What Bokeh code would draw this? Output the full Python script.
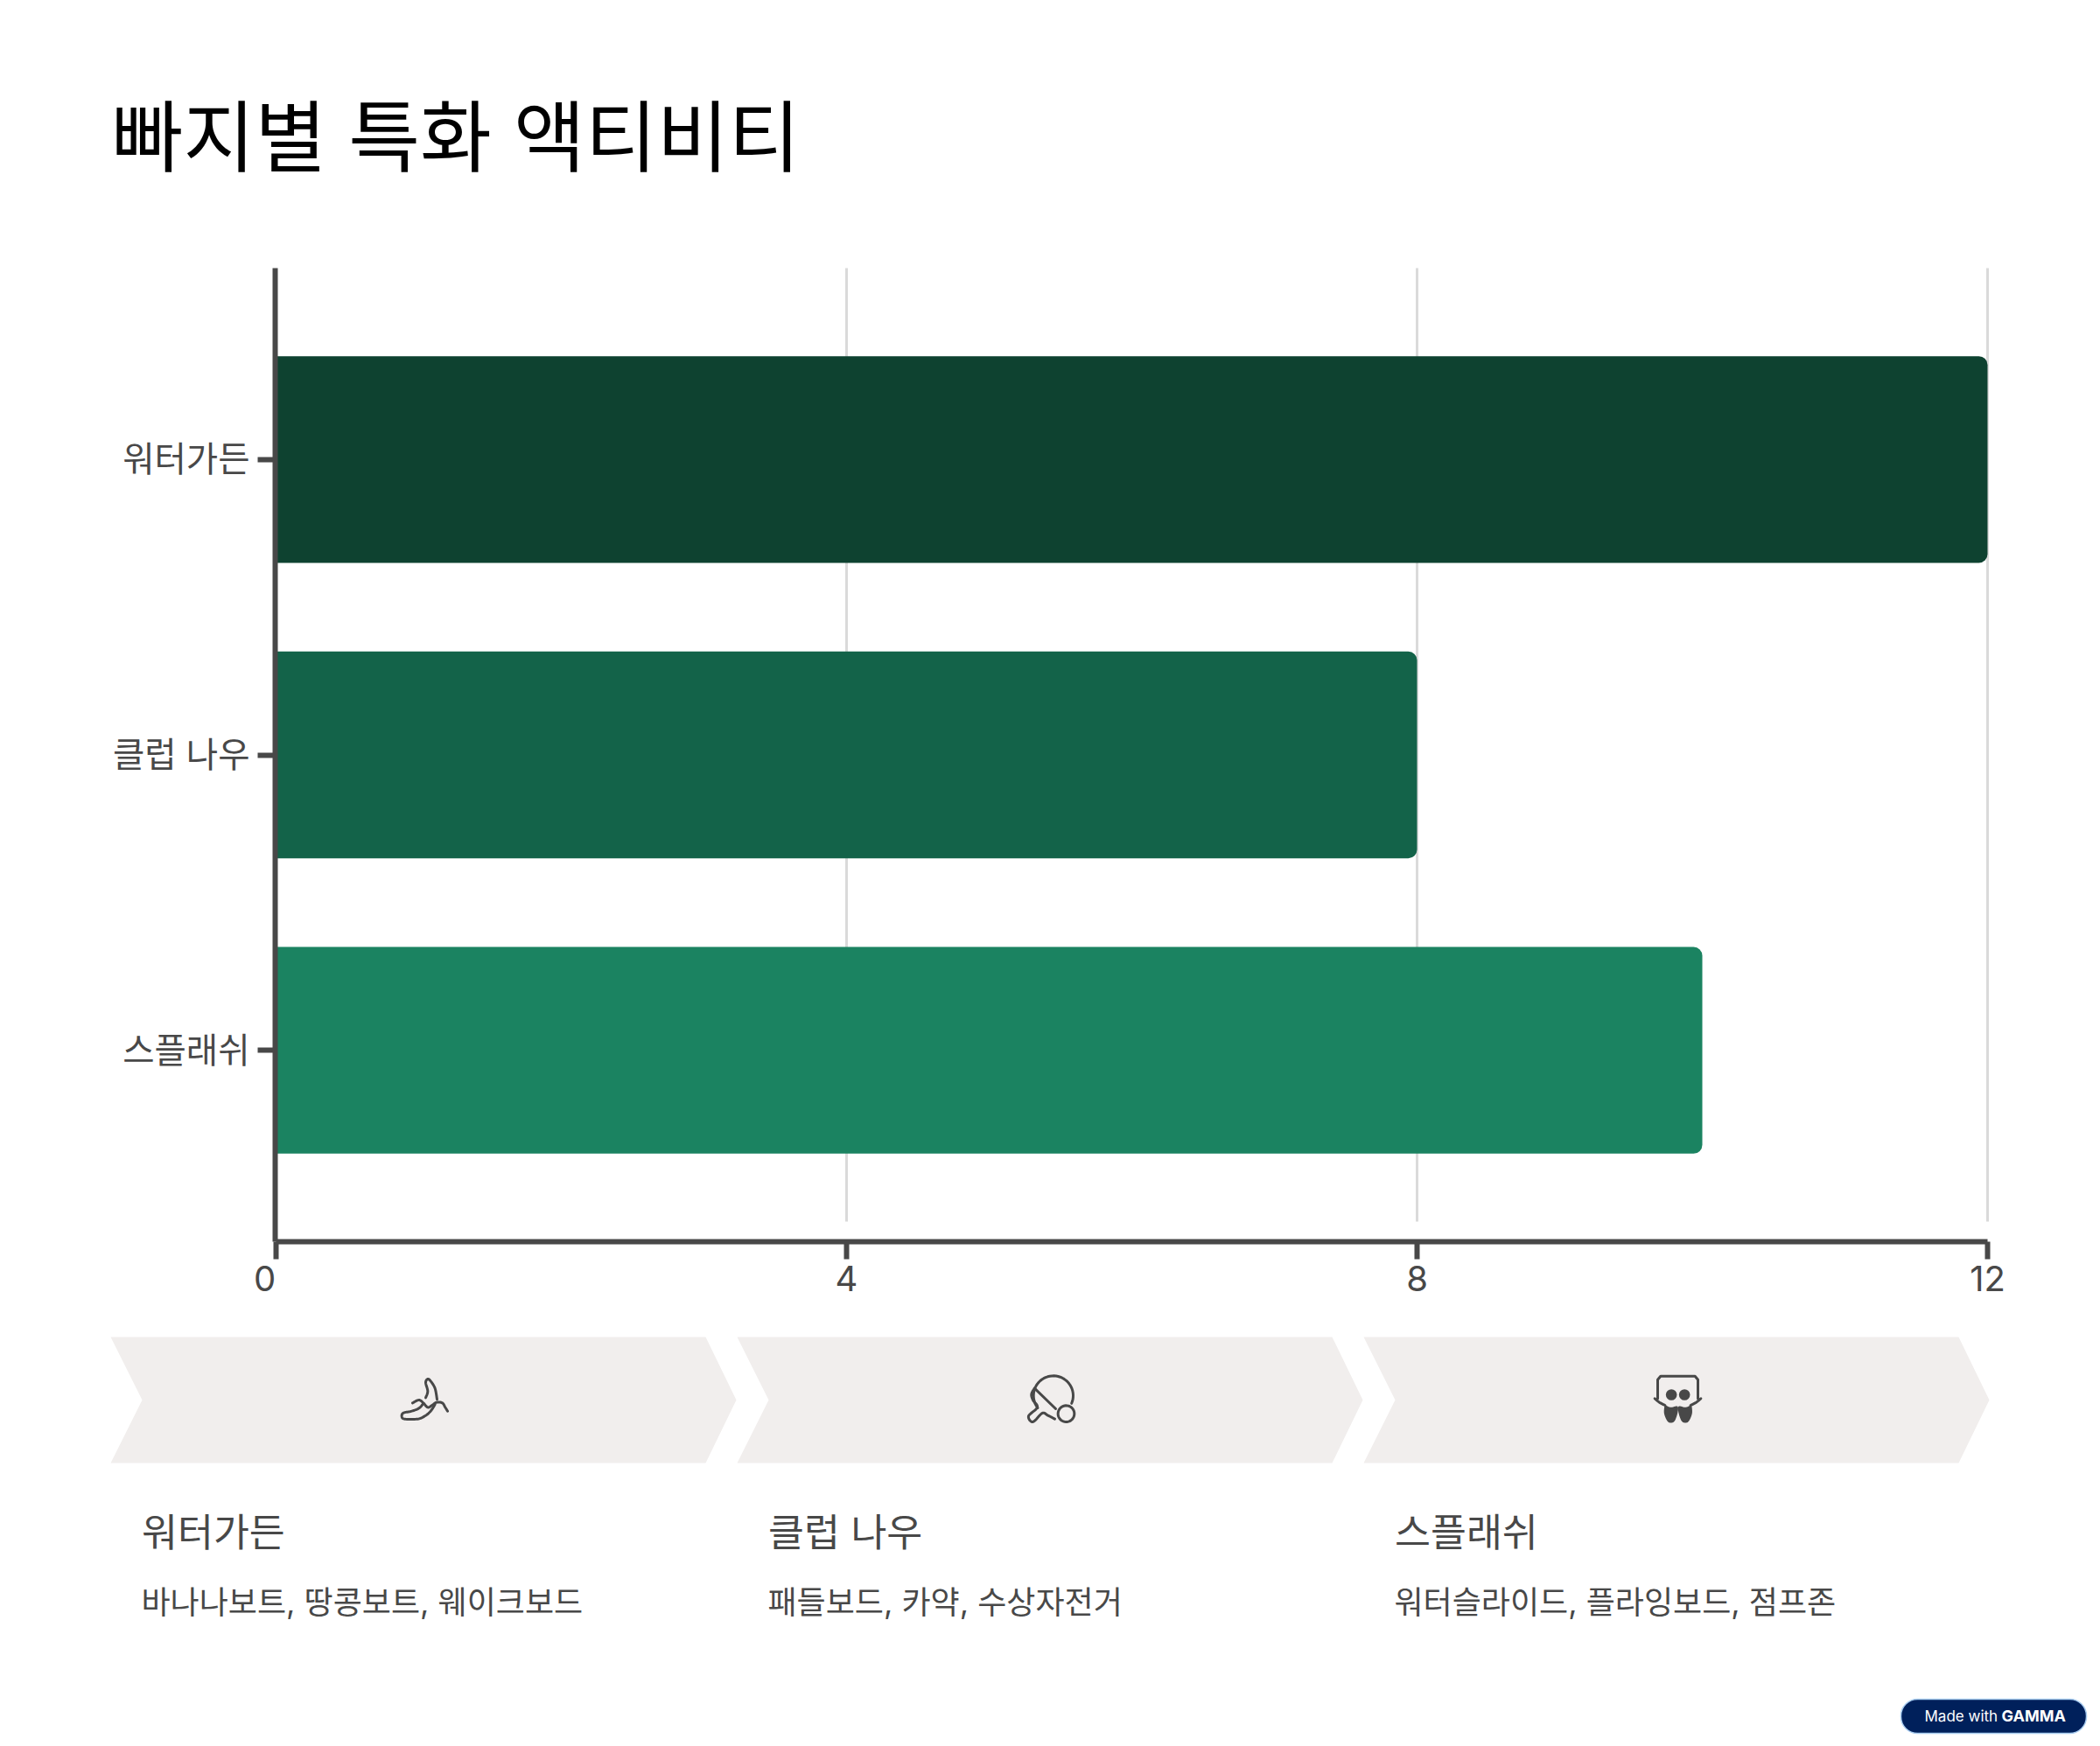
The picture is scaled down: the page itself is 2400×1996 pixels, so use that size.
import numpy as np
from bokeh.embed import file_html
from bokeh.layouts import column
from bokeh.models import FactorRange, FixedTicker, Range1d
from bokeh.plotting import figure
from bokeh.resources import INLINE

# ---- data ----
title_text = "빠지별 특화 액티비티"
categories = ["워터가든", "클럽 나우", "스플래쉬"]
activity_counts = [12, 8, 10]
bar_colors = ["#0E4230", "#136349", "#1B8361"]
x_ticks = [0, 4, 8, 12]
card_titles = ["워터가든", "클럽 나우", "스플래쉬"]
card_texts = ["바나나보트, 땅콩보트, 웨이크보드", "패들보드, 카약, 수상자전거", "워터슬라이드, 플라잉보드, 점프존"]

FONT = 'Inter, "Noto Sans CJK KR"'
INK = "#484848"
CHEVRON = "#F1EEED"

# ---- chart ----
p = figure(
    width=2400, height=1500, output_backend="svg", toolbar_location=None,
    x_range=Range1d(-1 / 163, 1975 / 163),
    y_range=FactorRange(factors=categories[::-1], range_padding=0.0987, range_padding_units="percent"),
    min_border_left=314, min_border_right=110, min_border_top=306, min_border_bottom=81,
    outline_line_color=None, background_fill_color="white", border_fill_color="white",
    frame_align=False,
)
p.hbar(y=categories, right=activity_counts, left=0, height=0.7, fill_color=bar_colors,
       line_color=None, border_radius=(0, 10, 10, 0))

p.title.text = title_text
p.title.text_font = FONT
p.title.text_font_size = "89px"
p.title.text_font_style = "normal"
p.title.text_color = "#000000"
p.title.align = "left"
p.title.offset = -187
p.title.standoff = 193

xa, ya = p.xaxis[0], p.yaxis[0]
xa.ticker = FixedTicker(ticks=x_ticks)
xa.bounds = (0, 12)
xa.major_label_overrides = {0: "0\u2007"}
for ax in (xa, ya):
    ax.axis_line_color = INK
    ax.axis_line_width = 6
    ax.major_tick_line_color = INK
    ax.major_tick_line_width = 6
    ax.major_tick_in = 0
    ax.major_tick_out = 20
    ax.minor_tick_line_color = None
    ax.major_label_text_color = INK
    ax.major_label_text_font = FONT
    ax.major_label_text_font_size = "40px"
xa.major_label_standoff = -3
ya.major_label_standoff = 9
ya.major_label_text_font_size = "39.5px"

g = p.xgrid[0]
g.ticker = FixedTicker(ticks=x_ticks[1:])
g.grid_line_color = "#DADADA"
g.grid_line_width = 3
g.cross_bounds = (-0.08, 3.2)
p.ygrid.grid_line_color = None

# ---- lower panel (page pixel coordinates) ----
q = figure(
    width=2400, height=496, output_backend="svg", toolbar_location=None,
    x_range=Range1d(0, 2400), y_range=Range1d(1996, 1500),
    min_border=0, outline_line_color=None, background_fill_color="white", border_fill_color="white",
    frame_align=False,
)
q.axis.visible = False
q.grid.visible = False

card_left = [126, 842, 1558]
top, mid, bot, w = 1528, 1600, 1672, 715
q.patches(
    [[a, a + w - 35, a + w, a + w - 35, a, a + 36] for a in card_left],
    [[top, top, mid, bot, bot, mid] for _ in card_left],
    fill_color=CHEVRON, line_color=None,
)
q.text([a + 35.5 for a in card_left], [1751] * 3, text=card_titles, text_font={"value": FONT},
       text_font_size="44.5px", text_color=INK, text_baseline="middle")
q.text([a + 35 for a in card_left], [1831] * 3, text=card_texts, text_font={"value": FONT},
       text_font_size="36px", text_color=INK, text_baseline="middle")


def smooth(pts, n=8):
    pts = np.array(pts, float)
    pp = np.vstack([pts[0], pts, pts[-1]])
    out = []
    for i in range(1, len(pp) - 2):
        for t in np.linspace(0, 1, n, endpoint=False):
            out.append(0.5 * (2 * pp[i] + (pp[i + 1] - pp[i - 1]) * t
                              + (2 * pp[i - 1] - 5 * pp[i] + 4 * pp[i + 1] - pp[i + 2]) * t ** 2
                              + (3 * pp[i] - pp[i - 1] - 3 * pp[i + 1] + pp[i + 2]) * t ** 3))
    out.append(pts[-1])
    return np.array(out)


def icon_lines(paths, ox, oy):
    xs = [list(ox + s[:, 0] / 3) for s in paths]
    ys = [list(oy + s[:, 1] / 3) for s in paths]
    q.multi_line(xs, ys, line_color=INK, line_width=3, line_cap="round", line_join="round")


# banana
icon_lines([
    smooth([(198, 172), (205, 150), (198, 120), (205, 108), (215, 115), (230, 140), (237, 178)]),
    smooth([(153, 190), (175, 180), (190, 190), (205, 205), (220, 198), (235, 188), (255, 190), (265, 205), (273, 218)]),
    smooth([(190, 192), (175, 208), (150, 218), (122, 224), (116, 235), (125, 245), (170, 245), (195, 235), (215, 218), (230, 195)]),
], 420, 1540)

# paddle
ang = np.radians(np.linspace(-23, 218, 40))
head = np.column_stack([310 + 68 * np.cos(ang), 195 - 68 * np.sin(ang)])
ang2 = np.radians(np.linspace(0, 360, 40))
ball = np.column_stack([354 + 28 * np.cos(ang2), 257 + 28 * np.sin(ang2)])
neck = smooth([(245, 170), (235, 190), (240, 210), (255, 235), (225, 265), (240, 285), (272, 255), (290, 262), (315, 275)])
diag = np.array([(248, 172), (318, 240)], float)
icon_lines([head, ball, neck, diag], 1100, 1530)

# slideshare-like icon
frame_path = np.array([(162, 205), (162, 140), (172, 128), (290, 128), (300, 140), (300, 205)], float)
arm_l = smooth([(152, 205), (168, 218), (187, 228)])
arm_r = smooth([(310, 205), (294, 218), (275, 228)])
icon_lines([frame_path, arm_l, arm_r], 1840, 1530)
q.circle([1840 + 209 / 3, 1840 + 254 / 3], [1530 + 192 / 3] * 2, radius=19 / 3, fill_color=INK, line_color=None)
leg_l = smooth([(186, 225), (184, 255), (195, 282), (207, 288), (220, 282), (230, 255), (230, 232), (205, 235), (186, 225)])
leg_r = smooth([(278, 225), (280, 255), (269, 282), (257, 288), (244, 282), (234, 255), (234, 232), (259, 235), (278, 225)])
q.patches([list(1840 + s[:, 0] / 3) for s in (leg_l, leg_r)], [list(1530 + s[:, 1] / 3) for s in (leg_l, leg_r)],
          fill_color=INK, line_color=None)

# badge
q.quad(left=[2172], right=[2384], top=[1942], bottom=[1981], fill_color="#00205B", line_color="#A9CDF0",
       line_width=1.5, border_radius=19)
q.text([2199], [1961], text=["Made with"], text_font={"value": "Inter"}, text_font_size="17px",
       text_color="#FFFFFF", text_baseline="middle")
q.text([2287], [1961], text=["GAMMA"], text_font={"value": "Inter"}, text_font_size="18px",
       text_font_style="bold", text_color="#FFFFFF", text_baseline="middle")

layout = column(p, q, spacing=0)
open("out.html", "w").write(file_html(layout, INLINE))
